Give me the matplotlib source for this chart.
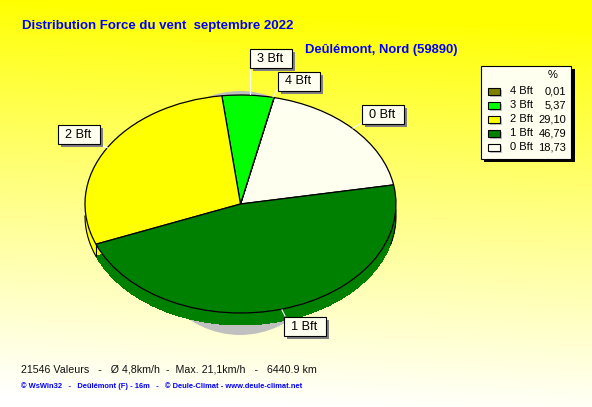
import numpy as np
import matplotlib
matplotlib.use('Agg')
import matplotlib.pyplot as plt
from matplotlib.patches import Rectangle, Ellipse

W, H = 592, 407

# legend order, top to bottom
forces = ['4 Bft', '3 Bft', '2 Bft', '1 Bft', '0 Bft']
percents = [0.01, 5.37, 29.10, 46.79, 18.73]
percent_labels = ['0,01', '5,37', '29,10', '46,79', '18,73']
colors = ['#808000', '#00ff00', '#ffff00', '#008000', '#fffff0']

title = 'Distribution Force du vent  septembre 2022'
place = 'Deûlémont, Nord (59890)'
stats = '21546 Valeurs   -   Ø 4,8km/h  -  Max. 21,1km/h   -   6440.9 km'
credits = '© WsWin32   -   Deûlémont (F) - 16m   -   © Deule-Climat - www.deule-climat.net'

plt.rcParams['font.family'] = ['Liberation Sans', 'DejaVu Sans']

fig = plt.figure(figsize=(W / 100, H / 100), dpi=100)

# background + everything in pixel coords
bg = fig.add_axes([0, 0, 1, 1])
bg.set_xlim(0, W)
bg.set_ylim(H, 0)
bg.axis('off')
yy, xx = np.mgrid[0:1:200j, 0:1:200j]
t = np.clip(yy * 1.03 - 0.07 * xx, 0, 1)
grad = np.ones((200, 200, 3))
grad[..., 2] = np.clip(t, 0, 1) ** 0.9
bg.imshow(grad, extent=[0, W, H, 0], aspect='auto', zorder=0)
bg.set_xlim(0, W)
bg.set_ylim(H, 0)

# shadow under the pie
bg.add_patch(Ellipse((240, 213), 208, 244, fc='#c0c0c0', ec='none', zorder=1))

# pie axes, squashed to an ellipse
cx, cy, rx, ry = 240.5, 204, 155.5, 109
depth = 12 / ry
ax = fig.add_axes([(cx - rx * 1.25) / W, 1 - (cy + ry * 1.5) / H, rx * 2.5 / W, ry * 3 / H])
ax.patch.set_visible(False)

# counter clockwise from the 0 Bft slice
order = [4, 0, 1, 2, 3]
vals = [percents[i] for i in order]
cols = [colors[i] for i in order]
start = 10.1

ax.pie(vals, colors=cols, startangle=start, center=(0, -depth), radius=1,
       wedgeprops={'linewidth': 0, 'antialiased': False})

# outline on the side of the rim, left and right only
top_theta2 = start + sum(vals[:4]) * 3.6
for a0, a1 in [(180, top_theta2), (-15, 3)]:
    th = np.deg2rad(np.linspace(a0, a1, 30))
    ax.plot(np.cos(th), np.sin(th) - depth, color='black', lw=0.8)

top, _ = ax.pie(vals, colors=cols, startangle=start, center=(0, 0), radius=1,
                wedgeprops={'linewidth': 0.9, 'edgecolor': 'black'})
ang = np.deg2rad(top[3].theta2)
ax.plot([np.cos(ang)] * 2, [np.sin(ang), np.sin(ang) - depth], color='black', lw=0.8)
ax.set_aspect('auto')
ax.set_xlim(-1.25, 1.25)
ax.set_ylim(-1.5, 1.5)
ax.axis('off')

over = fig.add_axes([0, 0, 1, 1])
over.set_xlim(0, W)
over.set_ylim(H, 0)
over.axis('off')
over.patch.set_visible(False)

# callout boxes: x0, y0, leader line
boxes = {
    '3 Bft': (249.5, 48.5, (249.5, 68), (249.5, 94)),
    '4 Bft': (277.5, 71.5, (277, 90), (273, 97)),
    '0 Bft': (361.5, 104.5, (362, 123), (353, 128)),
    '2 Bft': (57.5, 124.5, (99, 144), (108, 148)),
    '1 Bft': (283.5, 316.5, (282, 310), (285, 316)),
}
bw, bh = 42, 19
for name in forces:
    x0, y0, p0, p1 = boxes[name]
    over.plot([p0[0], p1[0]], [p0[1], p1[1]], color='white', lw=0.8, zorder=2)
    over.add_patch(Rectangle((x0 + 3, y0 + 3), bw, bh, fc='#808080', ec='none', zorder=3))
    over.add_patch(Rectangle((x0, y0), bw, bh, fc='#fffff0', ec='black', lw=0.8, zorder=4))
    over.text(x0 + bw / 2, y0 + bh / 2 + 0.5, name, ha='center', va='center', fontsize=9.2, color='black', zorder=5)

# legend
over.add_patch(Rectangle((484, 69), 91, 93, fc='black', ec='none', zorder=3))
over.add_patch(Rectangle((480.5, 65.5), 90, 93, fc='#fffff0', ec='black', lw=0.8, zorder=4))
over.text(553, 75.5, '%', ha='center', va='center', fontsize=8, zorder=5)
for i, name in enumerate(forces):
    y = 91 + i * 14
    over.add_patch(Rectangle((490, y - 1), 12, 7, fc='#c0c0c0', ec='none', zorder=4))
    over.add_patch(Rectangle((487.5, y - 3.5), 12, 7, fc=colors[i], ec='black', lw=0.8, zorder=5))
    over.text(510, y + 0.5, name, ha='left', va='center', fontsize=8, zorder=5)
    over.text(566, y + 0.5, percent_labels[i], ha='right', va='center', fontsize=8, zorder=5)

over.text(22, 25.5, title, color='#0000ff', fontweight='bold', fontsize=9.55, va='center', ha='left')
over.text(305, 50, place, color='#0000ff', fontweight='bold', fontsize=9.4, va='center', ha='left')
over.text(21, 369, stats, color='#101010', fontsize=7.7, va='center', ha='left')
over.text(21, 386, credits, color='#0000ff', fontweight='bold', fontsize=5.45, va='center', ha='left')

fig.savefig('out.png', dpi=100)
